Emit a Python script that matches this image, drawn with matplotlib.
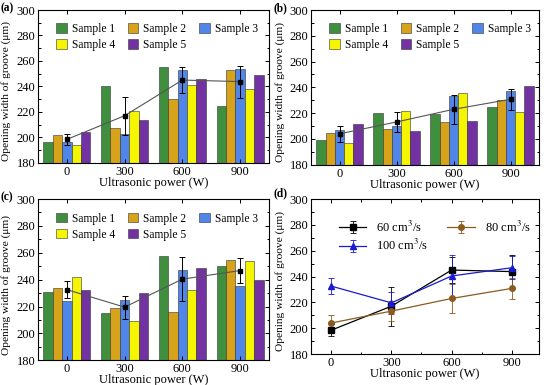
import numpy as np
import matplotlib
matplotlib.use('Agg')
import matplotlib.pyplot as plt
from matplotlib.ticker import MultipleLocator

plt.rcParams['font.family'] = ['Liberation Serif', 'DejaVu Serif']
plt.rcParams['font.size'] = 9
plt.rcParams['mathtext.fontset'] = 'stix'

powers = [0, 300, 600, 900]
samples = ['Sample 1', 'Sample 2', 'Sample 3', 'Sample 4', 'Sample 5']

# opening width of groove per sample (rows) and power (columns)
width_a = [[196, 240, 255, 225],
           [202, 207, 230, 253],
           [196, 203, 253, 254],
           [194, 221, 241, 238],
           [204, 214, 246, 249]]
width_b = [[199, 220, 219, 225],
           [205, 208, 213, 230],
           [207, 210, 233, 237],
           [197, 222, 236, 221],
           [212, 206, 214, 241]]
width_c = [[231, 215, 258, 250],
           [234, 219, 216, 255],
           [224, 225, 247, 235],
           [242, 209, 232, 254],
           [232, 230, 249, 240]]

mean_a = [198.4, 217.0, 245.0, 243.8]
err_a = [4.5, 15.0, 10.0, 12.5]
mean_b = [204.0, 213.2, 223.0, 230.8]
err_b = [6.0, 7.5, 11.0, 8.0]
mean_c = [232.6, 219.6, 240.4, 246.8]
err_c = [6.5, 8.5, 16.5, 9.0]

flow_labels = ['60 cm$^3$/s', '80 cm$^3$/s', '100 cm$^3$/s']

colors = ['#3f8f3f', '#d6a31a', '#4f86e8', '#f5f500', '#7232a2']
flow_colors = ['black', '#8b5a1e', '#1a1ad0']
flow_markers = ['s', 'o', '^']

fig = plt.figure(figsize=(5.5, 3.85), dpi=100)

def style_axes(ax):
    ax.tick_params(direction='in', top=True, right=True, which='both', length=3, width=0.7, pad=2)
    ax.tick_params(which='minor', length=1.8)
    ax.set_ylim(180, 300)
    ax.yaxis.set_major_locator(MultipleLocator(20))
    ax.yaxis.set_minor_locator(MultipleLocator(10))
    ax.set_ylabel('Opening width of groove (\u03bcm)', labelpad=1, fontsize=8.2)
    ax.yaxis.set_label_coords(-0.115, 0.47)
    ax.set_xlabel('Ultrasonic power (W)', labelpad=-0.5)
    for s in ax.spines.values():
        s.set_linewidth(0.8)

def bar_panel(rect, data, mean, err, tag):
    ax = fig.add_axes(rect)
    x = np.arange(len(powers))
    w = 0.163
    bars = []
    for i in range(len(samples)):
        b = ax.bar(x + (i - 2) * w, np.array(data[i]) - 180, w, bottom=180,
                   color=colors[i], edgecolor='#333333', linewidth=0.4, label=samples[i])
        bars.append(b)
    ax.plot(x, mean, '-', color='#555555', linewidth=0.8, zorder=3)
    ax.errorbar(x, mean, yerr=err, fmt='s', color='black', ms=3.5, capsize=2,
                elinewidth=0.7, capthick=0.7, zorder=4)
    ax.set_xlim(-0.5, 3.5)
    ax.set_xticks(x)
    ax.set_xticklabels([str(p) for p in powers])
    style_axes(ax)
    order = [0, 3, 1, 4, 2]
    ax.legend([bars[k] for k in order], [samples[k] for k in order], ncol=3,
              loc='upper left', bbox_to_anchor=(0.06, 0.945), frameon=False,
              fontsize=8.3, handlelength=0.9, handleheight=0.9, columnspacing=1.1,
              handletextpad=0.45, labelspacing=0.35, borderaxespad=0)
    fig.text(rect[0] - 0.068, rect[1] + rect[3] - 0.004, tag, fontweight='bold', fontsize=8.3)
    return ax

bar_panel([0.069, 0.577, 0.42, 0.397], width_a, mean_a, err_a, '(a)')
bar_panel([0.5655, 0.572, 0.4145, 0.402], width_b, mean_b, err_b, '(b)')
bar_panel([0.069, 0.064, 0.42, 0.419], width_c, mean_c, err_c, '(c)')

ax = fig.add_axes([0.5655, 0.0805, 0.4145, 0.4026])
handles = []
for mean, err, lab, col, mk in zip([mean_a, mean_b, mean_c], [err_a, err_b, err_c],
                                   flow_labels, flow_colors, flow_markers):
    h = ax.errorbar(powers, mean, yerr=err, fmt='-', marker=mk, color=col, ms=4,
                    capsize=2, elinewidth=0.6, capthick=0.6, linewidth=0.9, label=lab)
    handles.append(h)
ax.set_xlim(-100, 1035)
ax.set_xticks(powers)
ax.xaxis.set_minor_locator(MultipleLocator(150))
style_axes(ax)
ax.legend([handles[0], handles[2], handles[1]], [flow_labels[0], flow_labels[2], flow_labels[1]],
          ncol=2, loc='upper left', bbox_to_anchor=(0.1, 0.9), frameon=False,
          handlelength=2.2, columnspacing=1.5, labelspacing=0.3, borderaxespad=0)
fig.text(0.5655 - 0.068, 0.0805 + 0.4026 + 0.006, '(d)', fontweight='bold', fontsize=8.3)

fig.savefig('out.png', dpi=100)
